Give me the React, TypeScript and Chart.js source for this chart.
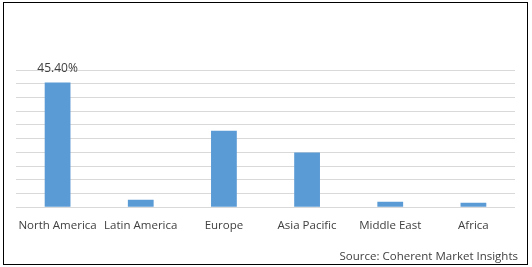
import React, { useEffect, useRef } from "react";
import { Chart, registerables } from "chart.js";

Chart.register(...registerables);

const categories = ["North America", "Latin America", "Europe", "Asia Pacific", "Middle East", "Africa"];
const shareValues = [45.4, 2.7, 27.9, 19.9, 2.0, 1.6];
const dataLabels = ["45.40%", "", "", "", "", ""];
const sourceText = "Source: Coherent Market Insights";

const FONT = "'Open Sans', 'Noto Sans', sans-serif";

const labelPlugin = {
  id: "labelPlugin",
  afterDatasetsDraw(chart: any) {
    const ctx = chart.ctx;
    const meta = chart.getDatasetMeta(0);
    ctx.save();
    ctx.fillStyle = "#404040";
    ctx.font = `12px ${FONT}`;
    ctx.textAlign = "center";
    ctx.textBaseline = "middle";
    meta.data.forEach((bar: any, i: number) => {
      const t = dataLabels[i];
      if (t) ctx.fillText(t, bar.x, bar.y - 14);
    });
    ctx.font = `11.5px ${FONT}`;
    ctx.textAlign = "right";
    ctx.fillText(sourceText, 518, 257);
    ctx.restore();
  },
};

export default function App() {
  const ref = useRef<HTMLCanvasElement>(null);
  useEffect(() => {
    if (!ref.current) return;
    const chart = new Chart(ref.current, {
      type: "bar",
      data: {
        labels: categories,
        datasets: [
          {
            data: shareValues,
            backgroundColor: "#5b9bd5",
            barPercentage: 0.62,
            categoryPercentage: 0.5,
          },
        ],
      },
      options: {
        animation: false,
        responsive: false,
        maintainAspectRatio: false,
        layout: { padding: { left: 16, right: 17, top: 70, bottom: 30 } },
        plugins: { legend: { display: false }, tooltip: { enabled: false } },
        scales: {
          x: {
            grid: { display: false },
            border: { display: false },
            ticks: {
              color: "#404040",
              font: { family: FONT, size: 11.5 },
              padding: 4,
              maxRotation: 0,
              autoSkip: false,
            },
          },
          y: {
            min: 0,
            max: 50,
            ticks: { stepSize: 5, display: false },
            grid: { color: "#d9d9d9", lineWidth: 1, drawTicks: false },
            border: { display: false },
          },
        },
      },
      plugins: [labelPlugin],
    });
    return () => chart.destroy();
  }, []);
  return (
    <div style={{ position: "absolute", left: 0, top: 0, width: 532, height: 267, background: "#fff" }}>
      <canvas ref={ref} width={532} height={267} style={{ position: "absolute", left: 0, top: 0 }} />
      <div
        style={{
          position: "absolute",
          left: 3,
          top: 2,
          width: 525,
          height: 263,
          border: "1px solid #000",
          boxSizing: "border-box",
          pointerEvents: "none",
        }}
      />
    </div>
  );
}
